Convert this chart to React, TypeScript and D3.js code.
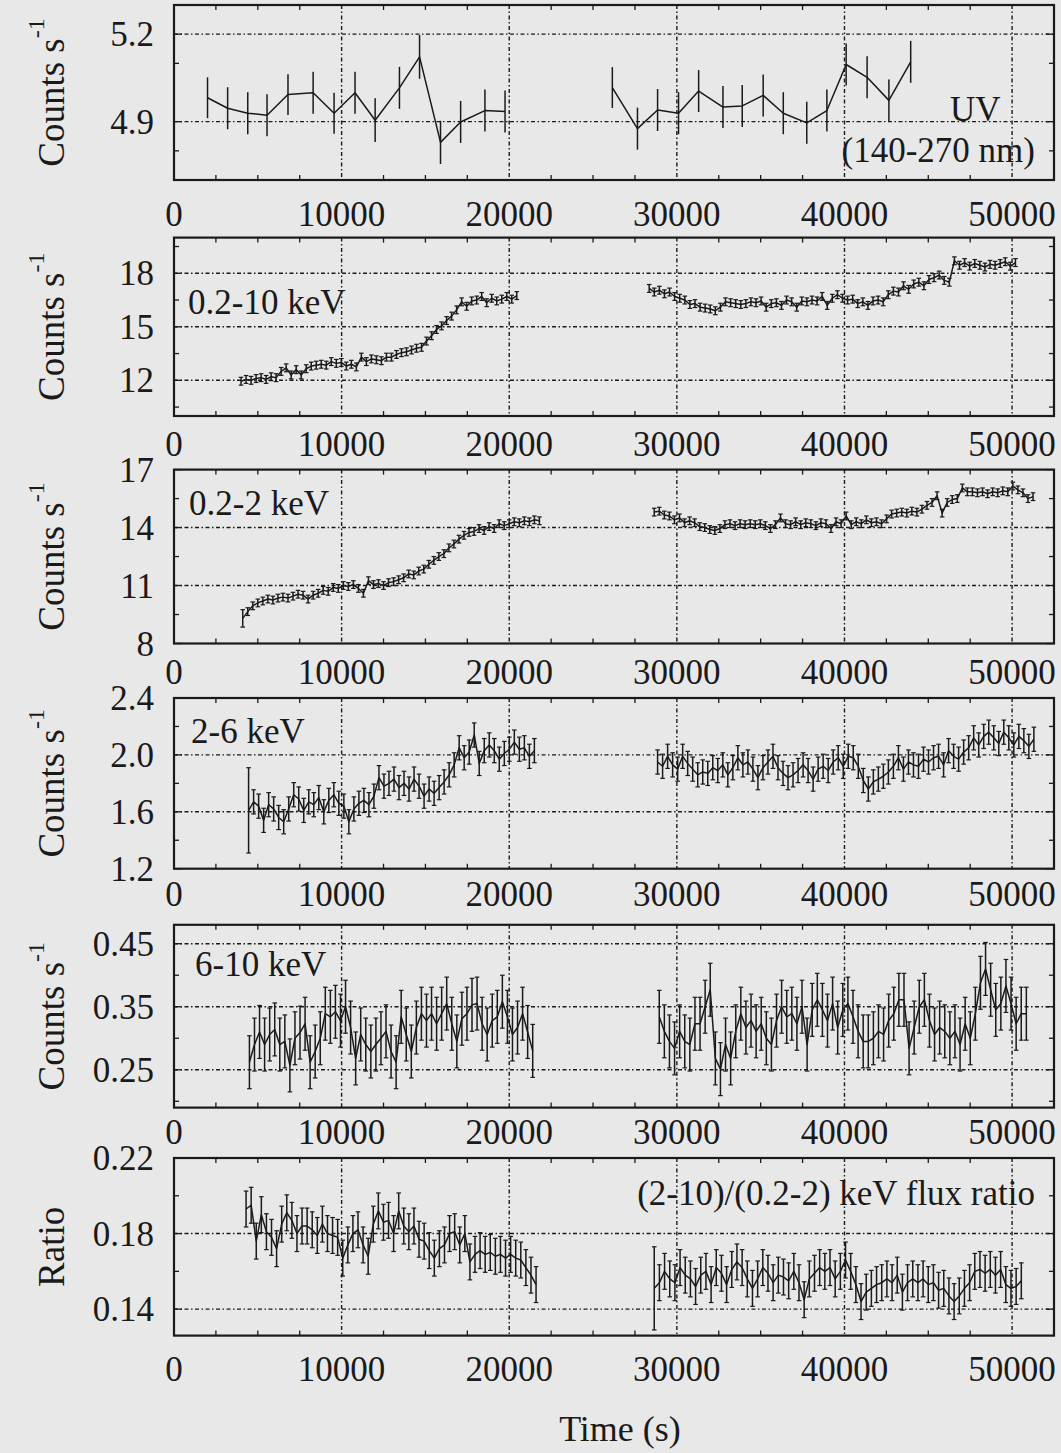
import * as d3 from 'd3';

const W = 1061;
const H = 1453;
const X_LEFT = 174;
const X_RIGHT = 1054;
const X_MAX = 52500;
const INK = '#1a1a1a';
const BG = '#e8e8e8';
const FONT = 'Liberation Serif, Times New Roman, serif';

const xMajor = [0, 10000, 20000, 30000, 40000, 50000];
const xMinor = d3.range(2500, X_MAX, 2500).filter((v) => v % 10000 !== 0);

// ---- UV (140-270 nm) ----
const uvTimeA = [2000, 3200, 4400, 5550, 6800, 8300, 9550, 10800, 12000, 13450, 14650, 15900, 17100, 18550, 19750];
const uvRateA = [4.982, 4.946, 4.929, 4.922, 4.993, 4.999, 4.929, 4.999, 4.905, 5.016, 5.122, 4.829, 4.899, 4.938, 4.935];
const uvErrA = [0.07, 0.072, 0.072, 0.072, 0.07, 0.072, 0.07, 0.072, 0.075, 0.072, 0.075, 0.074, 0.072, 0.072, 0.072];
const uvTimeB = [26150, 27650, 28850, 30100, 31300, 32750, 33900, 35150, 36350, 37750, 38950, 40100, 41350, 42650, 43950];
const uvRateB = [5.017, 4.876, 4.94, 4.929, 5.005, 4.95, 4.954, 4.99, 4.929, 4.896, 4.938, 5.096, 5.052, 4.973, 5.105];
const uvErrB = [0.07, 0.072, 0.072, 0.072, 0.072, 0.072, 0.072, 0.072, 0.072, 0.072, 0.072, 0.072, 0.072, 0.072, 0.072];

// ---- 0.2-10 keV ----
const fullA = [11.95, 12.05, 12.0, 12.1, 12.15, 12.05, 12.2, 12.15, 12.5, 12.7, 12.3, 12.6, 12.3, 12.65, 12.8, 12.85, 12.9, 12.85, 13.05, 12.95, 13.0, 12.8, 12.9, 12.75, 13.3, 13.05, 13.2, 13.15, 13.1, 13.3, 13.3, 13.45, 13.55, 13.6, 13.7, 13.8, 13.85, 14.2, 14.5, 14.85, 15.05, 15.35, 15.6, 15.95, 16.4, 16.15, 16.45, 16.5, 16.7, 16.35, 16.6, 16.45, 16.55, 16.7, 16.55, 16.75];
const fullB = [17.15, 16.95, 17.05, 16.85, 16.95, 16.7, 16.6, 16.5, 16.25, 16.3, 16.1, 16.05, 16.0, 15.9, 16.1, 16.4, 16.35, 16.3, 16.25, 16.3, 16.4, 16.35, 16.45, 16.1, 16.3, 16.35, 16.2, 16.5, 16.4, 16.1, 16.45, 16.4, 16.5, 16.45, 16.7, 16.2, 16.6, 16.8, 16.6, 16.5, 16.55, 16.3, 16.4, 16.2, 16.45, 16.5, 16.4, 16.8, 17.0, 16.95, 17.3, 17.1, 17.4, 17.5, 17.3, 17.65, 17.75, 17.9, 17.6, 17.5, 18.7, 18.45, 18.6, 18.4, 18.55, 18.45, 18.35, 18.5, 18.45, 18.55, 18.65, 18.4, 18.6];

// ---- 0.2-2 keV ----
const softA = [9.3, 9.65, 9.95, 10.1, 10.2, 10.3, 10.25, 10.35, 10.4, 10.35, 10.45, 10.55, 10.5, 10.3, 10.5, 10.6, 10.75, 10.7, 10.9, 10.85, 11.0, 10.95, 11.05, 10.85, 10.6, 11.25, 11.05, 11.1, 11.0, 11.15, 11.2, 11.3, 11.4, 11.6, 11.55, 11.75, 11.85, 12.1, 12.3, 12.5, 12.65, 12.95, 13.15, 13.4, 13.6, 13.75, 13.8, 13.95, 13.85, 14.05, 13.95, 14.2, 14.1, 14.2, 14.3, 14.25, 14.35, 14.3, 14.4, 14.35];
const softB = [14.8, 14.85, 14.65, 14.6, 14.4, 14.5, 14.25, 14.35, 14.25, 14.05, 14.0, 13.9, 13.85, 13.95, 14.15, 14.2, 14.1, 14.2, 14.15, 14.2, 14.15, 14.2, 14.1, 13.95, 14.15, 14.5, 14.2, 14.15, 14.3, 14.15, 14.25, 14.2, 14.1, 14.25, 14.2, 13.95, 14.3, 14.2, 14.6, 14.15, 14.3, 14.2, 14.4, 14.25, 14.3, 14.2, 14.45, 14.7, 14.75, 14.8, 14.75, 14.85, 14.8, 14.95, 15.15, 15.3, 15.65, 14.75, 15.3, 15.45, 15.5, 16.05, 15.85, 15.85, 15.8, 15.85, 15.75, 15.85, 15.8, 15.9, 15.85, 16.15, 15.95, 15.8, 15.5, 15.6];

// ---- 2-6 keV ----
const medA = [1.61, 1.67, 1.64, 1.54, 1.65, 1.62, 1.56, 1.53, 1.62, 1.72, 1.69, 1.61, 1.67, 1.65, 1.7, 1.6, 1.68, 1.72, 1.66, 1.64, 1.53, 1.62, 1.66, 1.68, 1.65, 1.71, 1.84, 1.78, 1.8, 1.83, 1.77, 1.8, 1.76, 1.83, 1.78, 1.71, 1.76, 1.73, 1.77, 1.81, 1.86, 1.93, 2.05, 1.98, 2.02, 2.14, 1.94, 2.03, 2.07, 2.03, 1.97, 2.01, 2.04, 2.09, 2.04, 2.05, 1.99, 2.03];
const medB = [1.95, 1.92, 1.99, 1.93, 1.9, 1.99, 1.94, 1.9, 1.86, 1.88, 1.87, 1.91, 1.89, 1.93, 1.86, 1.91, 1.98, 1.93, 1.95, 1.9, 1.84, 1.91, 1.95, 1.99, 1.91, 1.87, 1.84, 1.86, 1.89, 1.93, 1.89, 1.83, 1.9, 1.92, 1.89, 1.95, 1.98, 1.92, 1.99, 1.98, 1.92, 1.82, 1.76, 1.81, 1.83, 1.85, 1.88, 1.92, 1.98, 1.9, 1.95, 1.93, 1.92, 1.97, 1.95, 1.98, 1.99, 1.93, 2.03, 1.99, 1.97, 2.02, 2.05, 2.12, 2.07, 2.13, 2.16, 2.12, 2.08, 2.16, 2.12, 2.07, 2.13, 2.1, 2.06, 2.11];

// ---- 6-10 keV ----
const hardA = [0.262, 0.29, 0.31, 0.29, 0.306, 0.314, 0.29, 0.295, 0.257, 0.3, 0.309, 0.323, 0.262, 0.279, 0.3, 0.339, 0.334, 0.342, 0.328, 0.35, 0.317, 0.268, 0.306, 0.29, 0.279, 0.29, 0.3, 0.311, 0.279, 0.262, 0.334, 0.306, 0.279, 0.317, 0.339, 0.328, 0.339, 0.323, 0.339, 0.355, 0.323, 0.295, 0.331, 0.339, 0.353, 0.355, 0.323, 0.306, 0.328, 0.334, 0.358, 0.334, 0.306, 0.317, 0.339, 0.31, 0.28];
const hardB = [0.334, 0.311, 0.295, 0.284, 0.311, 0.295, 0.29, 0.323, 0.323, 0.35, 0.377, 0.268, 0.251, 0.29, 0.268, 0.311, 0.339, 0.317, 0.328, 0.311, 0.323, 0.3, 0.29, 0.328, 0.35, 0.334, 0.339, 0.323, 0.35, 0.29, 0.345, 0.361, 0.345, 0.328, 0.355, 0.317, 0.345, 0.355, 0.334, 0.311, 0.295, 0.295, 0.3, 0.311, 0.306, 0.328, 0.339, 0.361, 0.361, 0.284, 0.317, 0.35, 0.361, 0.328, 0.306, 0.317, 0.311, 0.3, 0.311, 0.29, 0.323, 0.3, 0.339, 0.388, 0.41, 0.377, 0.345, 0.355, 0.383, 0.355, 0.323, 0.339, 0.339];

// ---- (2-10)/(0.2-2) keV ratio ----
const ratioA = [0.193, 0.195, 0.176, 0.19, 0.181, 0.178, 0.172, 0.185, 0.191, 0.187, 0.18, 0.184, 0.184, 0.182, 0.179, 0.185, 0.18, 0.179, 0.178, 0.167, 0.174, 0.18, 0.182, 0.174, 0.168, 0.185, 0.192, 0.186, 0.187, 0.18, 0.192, 0.184, 0.181, 0.184, 0.177, 0.176, 0.171, 0.167, 0.172, 0.174, 0.18, 0.181, 0.174, 0.18, 0.165, 0.169, 0.171, 0.169, 0.17, 0.168, 0.169, 0.167, 0.169, 0.167, 0.166, 0.162, 0.158, 0.153];
const ratioB = [0.151, 0.154, 0.16, 0.156, 0.154, 0.162, 0.158, 0.156, 0.152, 0.158, 0.16, 0.153, 0.162, 0.159, 0.153, 0.161, 0.165, 0.162, 0.156, 0.151, 0.156, 0.162, 0.159, 0.154, 0.158, 0.157, 0.155, 0.16, 0.154, 0.145, 0.156, 0.159, 0.162, 0.16, 0.162, 0.156, 0.16, 0.166, 0.16, 0.153, 0.144, 0.149, 0.151, 0.153, 0.154, 0.156, 0.154, 0.158, 0.149, 0.154, 0.156, 0.154, 0.156, 0.153, 0.154, 0.15, 0.151, 0.147, 0.144, 0.147, 0.151, 0.154, 0.16, 0.161, 0.159, 0.161, 0.158, 0.161, 0.153, 0.151, 0.152, 0.155];

// time spans [first bin, last bin] of each X-ray segment
const spanFullA = [4000, 20450], spanFullB = [28350, 50200];
const spanSoftA = [4100, 21800], spanSoftB = [28650, 51250];
const spanMedA = [4450, 21500], spanMedB = [28850, 51300];
const spanHardA = [4500, 21400], spanHardB = [28950, 50850];
const spanRatioA = [4300, 21600], spanRatioB = [28650, 50550];

type Seg = { t: number[]; v: number[]; e: number[] };

const binned = (span: number[], v: number[], err: number, firstErr?: number): Seg => {
  const n = v.length;
  const t = v.map((_, i) => span[0] + ((span[1] - span[0]) * i) / (n - 1));
  const e = v.map((_, i) => (i === 0 && firstErr ? firstErr : err));
  return { t, v, e };
};

type Panel = {
  top: number;
  bottom: number;
  domain: [number, number];
  labels: number[];
  minor: number[];
  fmt: string;
  labelBase: number;
  caps: boolean;
  segs: Seg[];
  yTitle: 'counts' | 'ratio';
};

const panels: Panel[] = [
  {
    top: 5, bottom: 180, domain: [4.7, 5.3], labels: [4.9, 5.2], minor: [4.8, 5.1], fmt: '.1f',
    labelBase: 226, caps: false, yTitle: 'counts',
    segs: [
      { t: uvTimeA, v: uvRateA, e: uvErrA },
      { t: uvTimeB, v: uvRateB, e: uvErrB },
    ],
  },
  {
    top: 237.6, bottom: 416, domain: [10, 20], labels: [12, 15, 18], minor: [10.5, 13.5, 16.5, 19.5], fmt: 'd',
    labelBase: 456, caps: true, yTitle: 'counts',
    segs: [binned(spanFullA, fullA, 0.22), binned(spanFullB, fullB, 0.22)],
  },
  {
    top: 469.6, bottom: 643.5, domain: [8, 17], labels: [8, 11, 14, 17], minor: [9.5, 12.5, 15.5], fmt: 'd',
    labelBase: 684, caps: true, yTitle: 'counts',
    segs: [binned(spanSoftA, softA, 0.2, 0.45), binned(spanSoftB, softB, 0.2)],
  },
  {
    top: 698, bottom: 868.7, domain: [1.2, 2.4], labels: [1.2, 1.6, 2.0, 2.4], minor: [1.4, 1.8, 2.2], fmt: '.1f',
    labelBase: 906, caps: true, yTitle: 'counts',
    segs: [binned(spanMedA, medA, 0.085, 0.3), binned(spanMedB, medB, 0.085)],
  },
  {
    top: 924.8, bottom: 1107.6, domain: [0.19, 0.48], labels: [0.25, 0.35, 0.45], minor: [0.2, 0.3, 0.4], fmt: '.2f',
    labelBase: 1144, caps: true, yTitle: 'counts',
    segs: [binned(spanHardA, hardA, 0.042), binned(spanHardB, hardB, 0.042)],
  },
  {
    top: 1158, bottom: 1335.6, domain: [0.126, 0.22], labels: [0.14, 0.18, 0.22], minor: [0.16, 0.2], fmt: '.2f',
    labelBase: 1381, caps: true, yTitle: 'ratio',
    segs: [binned(spanRatioA, ratioA, 0.0095), binned(spanRatioB, ratioB, 0.0095, 0.022)],
  },
];

const x = d3.scaleLinear().domain([0, X_MAX]).range([X_LEFT, X_RIGHT]);

const GRID_DASH = '4 2.5 1.5 2.5';

function PanelView({ p }: { p: Panel }) {
  const y = d3.scaleLinear().domain(p.domain).range([p.bottom, p.top]);
  const fmt = d3.format(p.fmt);
  const inner = p.labels.filter((v) => v > p.domain[0] + 1e-9 && v < p.domain[1] - 1e-9);
  const cy = (p.top + p.bottom) / 2;
  return (
    <g>
      {/* grid */}
      {inner.map((v) => (
        <line key={'hg' + v} x1={X_LEFT} x2={X_RIGHT} y1={y(v)} y2={y(v)} stroke={INK} strokeWidth={1.4} strokeDasharray={GRID_DASH} />
      ))}
      {xMajor.filter((v) => v > 0).map((v) => (
        <line key={'vg' + v} x1={x(v)} x2={x(v)} y1={p.top} y2={p.bottom} stroke={INK} strokeWidth={1.4} strokeDasharray={GRID_DASH} />
      ))}
      {/* ticks */}
      {xMinor.map((v) => (
        <g key={'xm' + v}>
          <line x1={x(v)} x2={x(v)} y1={p.bottom} y2={p.bottom - 5} stroke={INK} strokeWidth={1.3} />
          <line x1={x(v)} x2={x(v)} y1={p.top} y2={p.top + 5} stroke={INK} strokeWidth={1.3} />
        </g>
      ))}
      {p.labels.concat(p.minor).map((v) => {
        const len = p.labels.includes(v) ? 8 : 5;
        return (
          <g key={'yt' + v}>
            <line x1={X_LEFT} x2={X_LEFT + len} y1={y(v)} y2={y(v)} stroke={INK} strokeWidth={1.3} />
            <line x1={X_RIGHT} x2={X_RIGHT - len} y1={y(v)} y2={y(v)} stroke={INK} strokeWidth={1.3} />
          </g>
        );
      })}
      {/* data */}
      {p.segs.map((s, si) => {
        const path = d3
          .line<number>()
          .x((_, i) => x(s.t[i]))
          .y((d) => y(d))(s.v);
        return (
          <g key={'s' + si}>
            <path d={path ?? ''} fill="none" stroke={INK} strokeWidth={1.5} strokeLinejoin="round" />
            {s.v.map((v, i) => {
              const xi = x(s.t[i]);
              const y1 = y(v + s.e[i]);
              const y2 = y(v - s.e[i]);
              return (
                <g key={i}>
                  <line x1={xi} x2={xi} y1={y1} y2={y2} stroke={INK} strokeWidth={1.5} />
                  {p.caps && (
                    <>
                      <line x1={xi - 2.3} x2={xi + 2.3} y1={y1} y2={y1} stroke={INK} strokeWidth={1.2} />
                      <line x1={xi - 2.3} x2={xi + 2.3} y1={y2} y2={y2} stroke={INK} strokeWidth={1.2} />
                    </>
                  )}
                </g>
              );
            })}
          </g>
        );
      })}
      {/* frame */}
      <rect x={X_LEFT} y={p.top} width={X_RIGHT - X_LEFT} height={p.bottom - p.top} fill="none" stroke={INK} strokeWidth={2.2} />
      {/* y tick labels */}
      {p.labels.map((v) => (
        <text key={'yl' + v} x={154} y={y(v) + 12} textAnchor="end" fontSize={35} fill={INK} fontFamily={FONT}>
          {fmt(v)}
        </text>
      ))}
      {/* x tick labels */}
      {xMajor.map((v) => (
        <text key={'xl' + v} x={x(v)} y={p.labelBase} textAnchor="middle" fontSize={35} fill={INK} fontFamily={FONT}>
          {v}
        </text>
      ))}
      {/* y title */}
      <g transform={`translate(64,${cy}) rotate(-90)`}>
        {p.yTitle === 'counts' ? (
          <text textAnchor="middle" fontSize={37} fill={INK} fontFamily={FONT}>
            Counts s
            <tspan dy={-20} fontSize={24}>-1</tspan>
          </text>
        ) : (
          <text textAnchor="middle" fontSize={37} fill={INK} fontFamily={FONT}>
            Ratio
          </text>
        )}
      </g>
    </g>
  );
}

export default function App() {
  return (
    <svg
      width={W}
      height={H}
      viewBox={`0 0 ${W} ${H}`}
      style={{ position: 'absolute', left: 0, top: 0, background: BG }}
      fontFamily={FONT}
    >
      <rect x={0} y={0} width={W} height={H} fill={BG} />
      {panels.map((p, i) => (
        <PanelView key={i} p={p} />
      ))}
      {/* panel annotations */}
      <text x={950} y={121} fontSize={35} fill={INK} fontFamily={FONT}>UV</text>
      <text x={1035} y={162} fontSize={35} fill={INK} fontFamily={FONT} textAnchor="end">(140-270 nm)</text>
      <text x={188} y={314} fontSize={35} fill={INK} fontFamily={FONT}>0.2-10 keV</text>
      <text x={189} y={515} fontSize={35} fill={INK} fontFamily={FONT}>0.2-2 keV</text>
      <text x={191} y={743} fontSize={35} fill={INK} fontFamily={FONT}>2-6 keV</text>
      <text x={195} y={976} fontSize={35} fill={INK} fontFamily={FONT}>6-10 keV</text>
      <text x={1035} y={1205} fontSize={35} fill={INK} fontFamily={FONT} textAnchor="end">(2-10)/(0.2-2) keV flux ratio</text>
      <text x={620} y={1441} fontSize={36} fill={INK} fontFamily={FONT} textAnchor="middle">Time (s)</text>
    </svg>
  );
}
